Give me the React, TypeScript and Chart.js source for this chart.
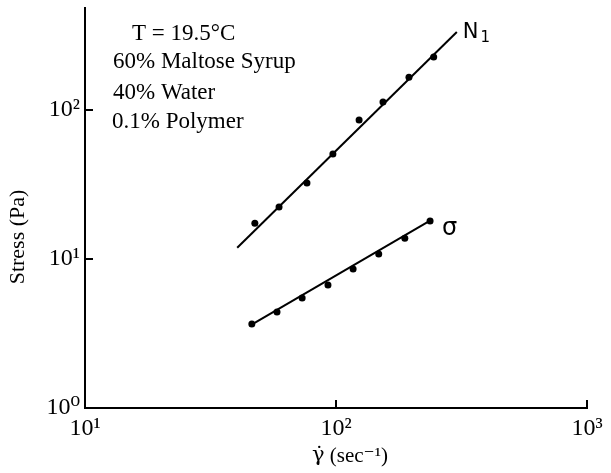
import { useEffect, useRef } from "react";
import { Chart, registerables } from "chart.js";

Chart.register(...registerables);

// ---- data ----
const shearRateN1 = [47.5, 59.3, 76.6, 97.2, 123.6, 153.9, 195.3, 245];
const stressN1 = [17.4, 22.3, 32.4, 50.7, 85.7, 113, 166, 227];
const shearRateSigma = [46.2, 58.2, 73.3, 92.9, 117, 148, 188, 237];
const stressSigma = [3.66, 4.41, 5.47, 6.69, 8.57, 10.8, 13.8, 18.0];
const fitN1X = [40.4, 303];
const fitN1Y = [11.9, 334];
const fitSigmaX = [45.4, 242.7];
const fitSigmaY = [3.57, 18.5];
const xTicks = [10, 100, 1000];
const yTicks = [1, 10, 100];
const xTickLabels = ["10¹", "10²", "10³"];
const yTickLabels = ["10⁰", "10¹", "10²"];
const xRange = [10, 1000];
const yRange = [1, 484];
const annotationLines = ["T = 19.5°C", "60% Maltose Syrup", "40% Water", "0.1% Polymer"];
const seriesLabels = ["N", "1", "σ"];
const xTitleSymbol = "γ̇";
const xTitleRest = " (sec⁻¹)";
const yTitle = "Stress (Pa)";

const SERIF = '"Liberation Serif", "Times New Roman", "DejaVu Serif", serif';
const SANS = '"DejaVu Sans", "Liberation Sans", sans-serif';

const toPts = (xs: number[], ys: number[]) => xs.map((x, i) => ({ x, y: ys[i] }));

const overlayPlugin = {
  id: "overlay",
  afterDraw(chart: any) {
    const { ctx, chartArea, scales } = chart;
    const xs = scales.x;
    const ys = scales.y;
    ctx.save();
    ctx.fillStyle = "#000";
    ctx.strokeStyle = "#000";

    // inward major tick marks
    ctx.lineWidth = 2;
    ctx.beginPath();
    for (const v of xTicks.slice(1)) {
      const px = xs.getPixelForValue(v);
      ctx.moveTo(px, chartArea.bottom);
      ctx.lineTo(px, chartArea.bottom - 8);
    }
    for (const v of yTicks.slice(1)) {
      const py = ys.getPixelForValue(v);
      ctx.moveTo(chartArea.left, py);
      ctx.lineTo(chartArea.left + 8, py);
    }
    ctx.stroke();

    // annotation block
    ctx.font = `23px ${SERIF}`;
    ctx.textAlign = "left";
    ctx.textBaseline = "alphabetic";
    const lx = chartArea.left;
    const offsets = [
      [47, 40],
      [28, 68],
      [28, 99],
      [27, 128],
    ];
    annotationLines.forEach((t, i) => {
      ctx.fillText(t, lx + offsets[i][0], offsets[i][1]);
    });

    // series labels
    const n1x = xs.getPixelForValue(fitN1X[1]);
    const n1y = ys.getPixelForValue(fitN1Y[1]);
    ctx.font = `21px ${SANS}`;
    ctx.fillText(seriesLabels[0], n1x + 6, n1y + 6);
    const nW = ctx.measureText(seriesLabels[0]).width;
    ctx.font = `15px ${SANS}`;
    ctx.fillText(seriesLabels[1], n1x + 8 + nW, n1y + 10);
    const sx = xs.getPixelForValue(shearRateSigma[shearRateSigma.length - 1]);
    const sy = ys.getPixelForValue(stressSigma[stressSigma.length - 1]);
    ctx.font = `24px ${SANS}`;
    ctx.fillText(seriesLabels[2], sx + 12, sy + 14);

    // x axis title (gamma-dot in a font with good combining support)
    const cx = (chartArea.left + chartArea.right) / 2 + 14;
    ctx.textBaseline = "middle";
    ctx.font = `21px "DejaVu Serif", serif`;
    const gW = ctx.measureText(xTitleSymbol).width;
    ctx.font = `21px ${SERIF}`;
    const rW = ctx.measureText(xTitleRest).width;
    const startX = cx - (gW + rW) / 2;
    ctx.textAlign = "left";
    ctx.font = `21px "DejaVu Serif", serif`;
    ctx.fillText(xTitleSymbol, startX, 456);
    ctx.font = `21px ${SERIF}`;
    ctx.fillText(xTitleRest, startX + gW, 456);

    // y axis title
    ctx.save();
    ctx.translate(18, 237);
    ctx.rotate(-Math.PI / 2);
    ctx.textAlign = "center";
    ctx.font = `22px ${SERIF}`;
    ctx.fillText(yTitle, 0, 0);
    ctx.restore();

    ctx.restore();
  },
};

export default function App() {
  const ref = useRef<HTMLCanvasElement | null>(null);

  useEffect(() => {
    if (!ref.current) return;
    const lineStyle = {
      type: "line" as const,
      borderColor: "#000",
      borderWidth: 2,
      pointRadius: 0,
      fill: false,
      showLine: true,
    };
    const pointStyle = {
      type: "scatter" as const,
      backgroundColor: "#000",
      borderColor: "#000",
      pointRadius: 3.5,
      borderWidth: 0,
    };
    const chart = new Chart(ref.current, {
      type: "scatter",
      data: {
        datasets: [
          { ...pointStyle, label: "N1", data: toPts(shearRateN1, stressN1) },
          { ...pointStyle, label: "σ", data: toPts(shearRateSigma, stressSigma) },
          { ...lineStyle, label: "N1 fit", data: toPts(fitN1X, fitN1Y) },
          { ...lineStyle, label: "σ fit", data: toPts(fitSigmaX, fitSigmaY) },
        ] as any,
      },
      options: {
        animation: false,
        responsive: false,
        layout: { padding: { left: 0, top: 8, right: 24, bottom: 0 } },
        plugins: { legend: { display: false }, tooltip: { enabled: false } },
        scales: {
          x: {
            type: "logarithmic",
            min: xRange[0],
            max: xRange[1],
            afterBuildTicks: (s: any) => {
              s.ticks = xTicks.map((v) => ({ value: v }));
            },
            afterFit: (s: any) => {
              s.height = 65;
              s.paddingLeft = 0;
              s.paddingRight = 0;
            },
            grid: { display: false, drawTicks: false },
            border: { display: true, color: "#000", width: 2 },
            ticks: {
              color: "#000",
              font: { family: SERIF, size: 24 },
              padding: 6,
              maxRotation: 0,
              autoSkip: false,
              callback: (v: any) => {
                const i = xTicks.indexOf(Number(v));
                return i >= 0 ? xTickLabels[i] : "";
              },
            },
          },
          y: {
            type: "logarithmic",
            min: yRange[0],
            max: yRange[1],
            afterBuildTicks: (s: any) => {
              s.ticks = yTicks.map((v) => ({ value: v }));
            },
            afterFit: (s: any) => {
              s.width = 85;
              s.paddingTop = 0;
              s.paddingBottom = 0;
            },
            grid: { display: false, drawTicks: false },
            border: { display: true, color: "#000", width: 2 },
            ticks: {
              color: "#000",
              font: { family: SERIF, size: 24 },
              padding: 5,
              autoSkip: false,
              callback: (v: any) => {
                const i = yTicks.indexOf(Number(v));
                return i >= 0 ? yTickLabels[i] : "";
              },
            },
          },
        },
      } as any,
      plugins: [overlayPlugin],
    });
    return () => chart.destroy();
  }, []);

  return (
    <div style={{ position: "fixed", left: 0, top: 0, width: 611, height: 473, background: "#fff" }}>
      <canvas ref={ref} width={611} height={473} />
    </div>
  );
}
